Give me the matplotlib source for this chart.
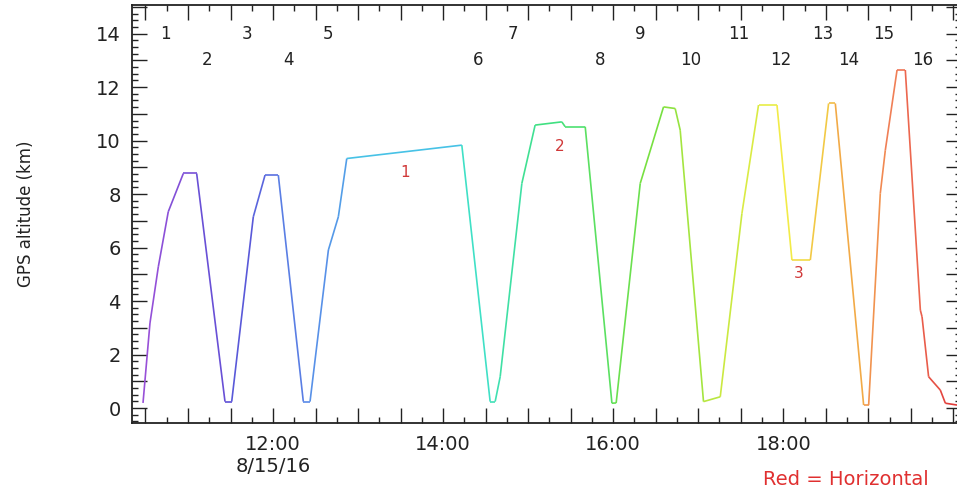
import numpy as np
import matplotlib
matplotlib.use("Agg")
import matplotlib.pyplot as plt
from matplotlib.collections import LineCollection
from matplotlib.colors import LinearSegmentedColormap
from matplotlib.ticker import MultipleLocator, FuncFormatter

# flight track, time in decimal hours (UTC) and GPS altitude in km
time_hr = [10.471, 10.553, 10.651, 10.768, 10.945, 11.102, 11.435, 11.514, 11.768, 11.906,
           12.062, 12.356, 12.435, 12.651, 12.768, 12.867, 14.220, 14.553, 14.612, 14.671,
           14.926, 15.082, 15.396, 15.435, 15.671, 15.985, 16.035, 16.318, 16.592, 16.729,
           16.788, 17.062, 17.259, 17.514, 17.709, 17.926, 18.102, 18.318, 18.533, 18.612,
           18.945, 19.004, 19.141, 19.200, 19.338, 19.435, 19.612, 19.632, 19.709, 19.847,
           19.906, 20.047]
alt_km = [0.19, 3.18, 5.28, 7.34, 8.77, 8.77, 0.24, 0.24, 7.15, 8.71,
          8.71, 0.24, 0.24, 5.91, 7.15, 9.33, 9.83, 0.24, 0.24, 1.17,
          8.40, 10.58, 10.70, 10.52, 10.52, 0.18, 0.19, 8.40, 11.26, 11.20,
          10.39, 0.24, 0.42, 7.28, 11.33, 11.33, 5.53, 5.53, 11.39, 11.39,
          0.11, 0.11, 8.03, 9.64, 12.64, 12.64, 3.66, 3.41, 1.17, 0.67,
          0.18, 0.11]

# profile numbers along the top
prof_num = [str(i) for i in range(1, 17)]
prof_t = [10.729, 11.224, 11.694, 12.176, 12.647, 14.412, 14.824, 15.847,
          16.318, 16.906, 17.471, 17.965, 18.459, 18.765, 19.176, 19.635]

# horizontal legs (red numbers)
leg_num = ["1", "2", "3"]
leg_t = [13.553, 15.376, 18.176]
leg_alt = [8.79, 9.79, 5.03]

hour_ticks = [12, 14, 16, 18]
hour_labels = ["12:00\n8/15/16", "14:00", "16:00", "18:00"]

cmap = LinearSegmentedColormap.from_list("flight", [
    (0.0, "#9a50d8"), (0.107, "#5a50d6"), (0.2, "#5a8ae8"), (0.316, "#48c0e8"),
    (0.4, "#40e0cc"), (0.5, "#40e080"), (0.626, "#78e040"), (0.71, "#c4e840"),
    (0.785, "#f2ee48"), (0.858, "#f2b444"), (0.93, "#f07858"), (1.0, "#e03838")])

fig = plt.figure(figsize=(9.57, 4.91), dpi=100)
ax = fig.add_axes([131.7/957, 1-423/491, (961-131.7)/957, 418/491])

t = np.array(time_hr)
a = np.array(alt_km)
pts = np.column_stack([t, a]).reshape(-1, 1, 2)
segs = np.concatenate([pts[:-1], pts[1:]], axis=1)
mid = 0.5*(t[:-1]+t[1:])
norm = (mid - t[0])/(t[-1]-t[0])
lc = LineCollection(segs, colors=cmap(norm), linewidths=1.2)
ax.add_collection(lc)

ax.set_xlim(10.338, 20.09)
ax.set_ylim(-0.56, 15.07)

for i, (n, tt) in enumerate(zip(prof_num, prof_t)):
    yy = 14.0 if i % 2 == 0 else 13.0
    ax.text(tt, yy, n, ha="center", va="center", fontsize=12, color="#222222")

for n, tt, yy in zip(leg_num, leg_t, leg_alt):
    ax.text(tt, yy, n, ha="center", va="center", fontsize=11, color="#d03838")

# x ticks: 2 h long, 30 min medium, 15 min short
ax.xaxis.set_major_locator(MultipleLocator(0.5))
ax.xaxis.set_minor_locator(MultipleLocator(0.25))
lab = dict(zip(hour_ticks, hour_labels))
ax.xaxis.set_major_formatter(FuncFormatter(lambda v, p: lab.get(int(round(v))) if abs(v-round(v)) < 1e-6 and int(round(v)) in lab else ""))
ax.yaxis.set_major_locator(MultipleLocator(1))
ax.yaxis.set_minor_locator(MultipleLocator(0.25))
ax.yaxis.set_major_formatter(FuncFormatter(lambda v, p: "%d" % v if int(round(v)) % 2 == 0 else ""))

ax.tick_params(which="both", direction="in", top=True, right=True, color="#222222", width=1.0)
ax.tick_params(which="major", length=6.5, labelsize=14, labelcolor="#222222", pad=8)
ax.tick_params(which="minor", length=4)
ax.tick_params(axis="x", which="major", pad=9)

for tk in ax.xaxis.get_major_ticks():
    v = tk.get_loc()
    if abs(v/2 - round(v/2)) < 1e-6:
        tk.tick1line.set_markersize(11)
        tk.tick2line.set_markersize(11)
for tk in ax.yaxis.get_major_ticks():
    v = tk.get_loc()
    if abs(v/2 - round(v/2)) < 1e-6:
        tk.tick1line.set_markersize(11)
        tk.tick2line.set_markersize(11)

for s in ax.spines.values():
    s.set_color("#222222")
    s.set_linewidth(1.3)

fig.text(26/957, 1-214/491, "GPS altitude (km)", rotation=90, ha="center", va="center",
         fontsize=12, color="#222222")
fig.text(763/957, 2/491, "Red = Horizontal", ha="left", va="bottom",
         fontsize=14, color="#e03030")

fig.savefig("out.png", dpi=100)
